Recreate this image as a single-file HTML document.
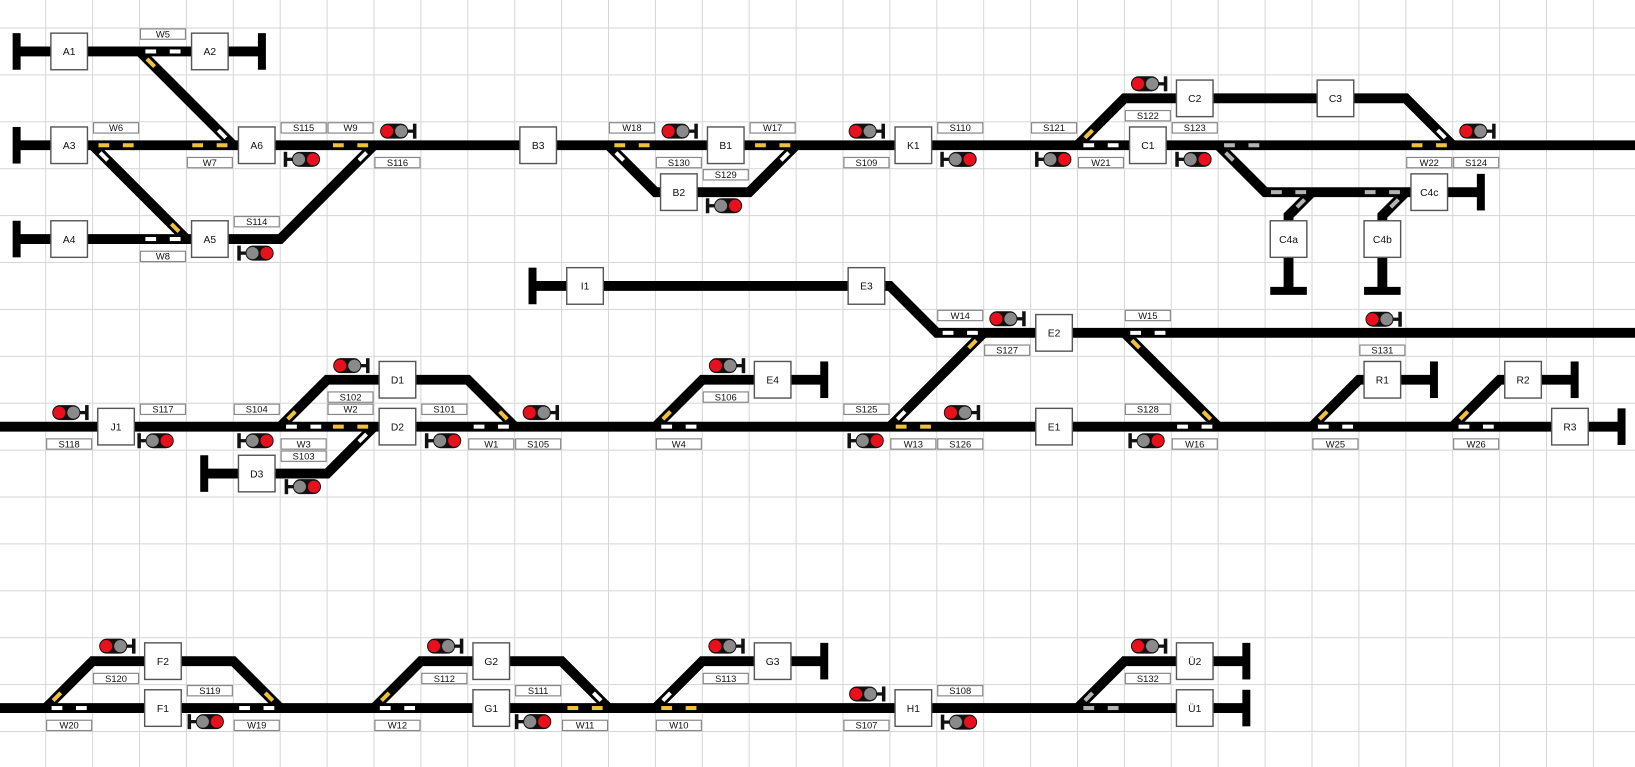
<!DOCTYPE html>
<html><head><meta charset="utf-8"><style>
html,body{margin:0;padding:0;background:#fff;}
svg{display:block;}
text{font-family:"Liberation Sans",Arial,sans-serif;text-anchor:middle;fill:#111;}
</style></head><body>
<svg width="1635" height="767" viewBox="0 0 1635 767" xmlns="http://www.w3.org/2000/svg">
<defs>
<pattern id="gp" x="45.2" y="27.5" width="46.9" height="46.9" patternUnits="userSpaceOnUse">
<path d="M0 0.5H46.9M0.5 0V46.9" stroke="#d6d6d6" stroke-width="1" fill="none"/>
</pattern>
<rect id="m" x="-0.115" y="-0.043" width="0.23" height="0.086"/>
<g id="sg"><rect x="-0.3" y="-0.16" width="0.6" height="0.32" rx="0.16" fill="#111"/><circle cx="-0.15" cy="0" r="0.13" fill="#e8101c"/><circle cx="0.15" cy="0" r="0.13" fill="#8a8a8a"/><rect x="0.28" y="-0.035" width="0.14" height="0.07" fill="#111"/><rect x="0.4" y="-0.16" width="0.075" height="0.32" fill="#111"/></g>
<rect id="bx" x="0.11" y="0.11" width="0.78" height="0.78" fill="#fff" stroke="#555" stroke-width="0.03"/>
<rect id="lb" x="0.02" y="0.02" width="0.96" height="0.22" fill="#fff" stroke="#888" stroke-width="0.025"/>
<rect id="bv" x="-0.085" y="-0.39" width="0.17" height="0.78" fill="#000"/>
</defs>
<rect width="1635" height="767" fill="#fff"/>
<rect width="1635" height="767" fill="url(#gp)"/>
<g transform="translate(45.7,28) scale(46.9)">
<!-- tracks -->
<g fill="none" stroke="#000" stroke-width="0.21" stroke-linejoin="miter">
<path d="M-0.62 0.5H4.61"/>
<path d="M2 0.5L4 2.5"/>
<path d="M-0.62 2.5H34.2"/>
<path d="M1 2.5L3 4.5"/>
<path d="M-0.62 4.5H5L7 2.5"/>
<path d="M12 2.5L13 3.5H15L16 2.5"/>
<path d="M22 2.5L23 1.5H29L30 2.5"/>
<path d="M25 2.5L26 3.5H30.6"/>
<path d="M27 3.5L26.5 4V5.6"/>
<path d="M29 3.5L28.5 4V5.6"/>
<path d="M10.38 5.5H18L19 6.5H34.2"/>
<path d="M18 8.5L20 6.5"/>
<path d="M23 6.5L25 8.5"/>
<path d="M-1 8.5H33.6"/>
<path d="M5 8.5L6 7.5H9L10 8.5"/>
<path d="M3.38 9.5H6L7 8.5"/>
<path d="M13 8.5L14 7.5H16.6"/>
<path d="M27 8.5L28 7.5H29.6"/>
<path d="M30 8.5L31 7.5H32.6"/>
<path d="M-1 14.5H25.6"/>
<path d="M0 14.5L1 13.5H4L5 14.5"/>
<path d="M7 14.5L8 13.5H11L12 14.5"/>
<path d="M13 14.5L14 13.5H16.6"/>
<path d="M22 14.5L23 13.5H25.6"/>
</g>
<!-- bumpers -->
<use href="#bv" x="-0.62" y="0.5"/><use href="#bv" x="4.61" y="0.5"/>
<use href="#bv" x="-0.62" y="2.5"/><use href="#bv" x="-0.62" y="4.5"/>
<use href="#bv" x="30.6" y="3.5"/><use href="#bv" x="10.38" y="5.5"/>
<use href="#bv" x="3.38" y="9.5"/><use href="#bv" x="16.6" y="7.5"/>
<use href="#bv" x="29.6" y="7.5"/><use href="#bv" x="32.6" y="7.5"/>
<use href="#bv" x="33.6" y="8.5"/><use href="#bv" x="16.6" y="13.5"/>
<use href="#bv" x="25.6" y="13.5"/><use href="#bv" x="25.6" y="14.5"/>
<rect x="26.11" y="5.52" width="0.78" height="0.17" fill="#000"/>
<rect x="28.11" y="5.52" width="0.78" height="0.17" fill="#000"/>
<!-- switch marks -->
<g>
<use href="#m" x="2.24" y="0.5" fill="#fff"/><use href="#m" x="2.76" y="0.5" fill="#fff"/><use href="#m" transform="translate(2.24 0.74) rotate(45)" fill="#f0c23a"/>
<use href="#m" x="3.76" y="2.5" fill="#f0c23a"/><use href="#m" x="3.24" y="2.5" fill="#f0c23a"/><use href="#m" transform="translate(3.76 2.26) rotate(45)" fill="#fff"/>
<use href="#m" x="1.24" y="2.5" fill="#f0c23a"/><use href="#m" x="1.76" y="2.5" fill="#f0c23a"/><use href="#m" transform="translate(1.24 2.74) rotate(45)" fill="#fff"/>
<use href="#m" x="2.76" y="4.5" fill="#fff"/><use href="#m" x="2.24" y="4.5" fill="#fff"/><use href="#m" transform="translate(2.76 4.26) rotate(45)" fill="#f0c23a"/>
<use href="#m" x="6.76" y="2.5" fill="#f0c23a"/><use href="#m" x="6.24" y="2.5" fill="#f0c23a"/><use href="#m" transform="translate(6.76 2.74) rotate(-45)" fill="#fff"/>
<use href="#m" x="12.24" y="2.5" fill="#f0c23a"/><use href="#m" x="12.76" y="2.5" fill="#f0c23a"/><use href="#m" transform="translate(12.24 2.74) rotate(45)" fill="#fff"/>
<use href="#m" x="15.76" y="2.5" fill="#f0c23a"/><use href="#m" x="15.24" y="2.5" fill="#f0c23a"/><use href="#m" transform="translate(15.76 2.74) rotate(-45)" fill="#fff"/>
<use href="#m" x="22.24" y="2.5" fill="#fff"/><use href="#m" x="22.76" y="2.5" fill="#fff"/><use href="#m" transform="translate(22.24 2.26) rotate(-45)" fill="#f0c23a"/>
<use href="#m" x="29.76" y="2.5" fill="#f0c23a"/><use href="#m" x="29.24" y="2.5" fill="#f0c23a"/><use href="#m" transform="translate(29.76 2.26) rotate(45)" fill="#fff"/>
<use href="#m" x="25.24" y="2.5" fill="#b4b4b4"/><use href="#m" x="25.76" y="2.5" fill="#b4b4b4"/><use href="#m" transform="translate(25.24 2.74) rotate(45)" fill="#b4b4b4"/>
<use href="#m" x="26.76" y="3.5" fill="#b4b4b4"/><use href="#m" x="26.24" y="3.5" fill="#b4b4b4"/><use href="#m" transform="translate(26.76 3.74) rotate(-45)" fill="#b4b4b4"/>
<use href="#m" x="28.76" y="3.5" fill="#b4b4b4"/><use href="#m" x="28.24" y="3.5" fill="#b4b4b4"/><use href="#m" transform="translate(28.76 3.74) rotate(-45)" fill="#b4b4b4"/>
<use href="#m" x="19.76" y="6.5" fill="#fff"/><use href="#m" x="19.24" y="6.5" fill="#fff"/><use href="#m" transform="translate(19.76 6.74) rotate(-45)" fill="#f0c23a"/>
<use href="#m" x="23.24" y="6.5" fill="#fff"/><use href="#m" x="23.76" y="6.5" fill="#fff"/><use href="#m" transform="translate(23.24 6.74) rotate(45)" fill="#f0c23a"/>
<use href="#m" x="24.76" y="8.5" fill="#fff"/><use href="#m" x="24.24" y="8.5" fill="#fff"/><use href="#m" transform="translate(24.76 8.26) rotate(45)" fill="#f0c23a"/>
<use href="#m" x="18.24" y="8.5" fill="#f0c23a"/><use href="#m" x="18.76" y="8.5" fill="#f0c23a"/><use href="#m" transform="translate(18.24 8.26) rotate(-45)" fill="#fff"/>
<use href="#m" x="13.24" y="8.5" fill="#fff"/><use href="#m" x="13.76" y="8.5" fill="#fff"/><use href="#m" transform="translate(13.24 8.26) rotate(-45)" fill="#f0c23a"/>
<use href="#m" x="5.24" y="8.5" fill="#fff"/><use href="#m" x="5.76" y="8.5" fill="#fff"/><use href="#m" transform="translate(5.24 8.26) rotate(-45)" fill="#f0c23a"/>
<use href="#m" x="6.76" y="8.5" fill="#f0c23a"/><use href="#m" x="6.24" y="8.5" fill="#f0c23a"/><use href="#m" transform="translate(6.76 8.74) rotate(-45)" fill="#fff"/>
<use href="#m" x="9.76" y="8.5" fill="#fff"/><use href="#m" x="9.24" y="8.5" fill="#fff"/><use href="#m" transform="translate(9.76 8.26) rotate(45)" fill="#f0c23a"/>
<use href="#m" x="27.24" y="8.5" fill="#fff"/><use href="#m" x="27.76" y="8.5" fill="#fff"/><use href="#m" transform="translate(27.24 8.26) rotate(-45)" fill="#f0c23a"/>
<use href="#m" x="30.24" y="8.5" fill="#fff"/><use href="#m" x="30.76" y="8.5" fill="#fff"/><use href="#m" transform="translate(30.24 8.26) rotate(-45)" fill="#f0c23a"/>
<use href="#m" x="0.24" y="14.5" fill="#fff"/><use href="#m" x="0.76" y="14.5" fill="#fff"/><use href="#m" transform="translate(0.24 14.26) rotate(-45)" fill="#f0c23a"/>
<use href="#m" x="4.76" y="14.5" fill="#fff"/><use href="#m" x="4.24" y="14.5" fill="#fff"/><use href="#m" transform="translate(4.76 14.26) rotate(45)" fill="#f0c23a"/>
<use href="#m" x="7.24" y="14.5" fill="#fff"/><use href="#m" x="7.76" y="14.5" fill="#fff"/><use href="#m" transform="translate(7.24 14.26) rotate(-45)" fill="#f0c23a"/>
<use href="#m" x="11.76" y="14.5" fill="#f0c23a"/><use href="#m" x="11.24" y="14.5" fill="#f0c23a"/><use href="#m" transform="translate(11.76 14.26) rotate(45)" fill="#fff"/>
<use href="#m" x="13.24" y="14.5" fill="#f0c23a"/><use href="#m" x="13.76" y="14.5" fill="#f0c23a"/><use href="#m" transform="translate(13.24 14.26) rotate(-45)" fill="#fff"/>
<use href="#m" x="22.24" y="14.5" fill="#b4b4b4"/><use href="#m" x="22.76" y="14.5" fill="#b4b4b4"/><use href="#m" transform="translate(22.24 14.26) rotate(-45)" fill="#b4b4b4"/>
</g>
<!-- signals post right -->
<use href="#sg" x="7.43" y="2.2"/><use href="#sg" x="13.43" y="2.2"/><use href="#sg" x="17.42" y="2.2"/>
<use href="#sg" x="23.44" y="1.19"/><use href="#sg" x="30.44" y="2.2"/><use href="#sg" x="20.42" y="6.2"/>
<use href="#sg" x="28.44" y="6.21"/><use href="#sg" x="0.44" y="8.2"/><use href="#sg" x="6.43" y="7.2"/>
<use href="#sg" x="10.47" y="8.2"/><use href="#sg" x="14.44" y="7.2"/><use href="#sg" x="19.45" y="8.2"/>
<use href="#sg" x="1.44" y="13.18"/><use href="#sg" x="8.43" y="13.18"/><use href="#sg" x="14.43" y="13.18"/>
<use href="#sg" x="17.43" y="14.2"/><use href="#sg" x="23.44" y="13.18"/>
<!-- signals post left -->
<use href="#sg" transform="translate(5.55 2.8) rotate(180)"/><use href="#sg" transform="translate(4.56 4.8) rotate(180)"/>
<use href="#sg" transform="translate(14.55 3.79) rotate(180)"/><use href="#sg" transform="translate(19.55 2.8) rotate(180)"/>
<use href="#sg" transform="translate(21.57 2.8) rotate(180)"/><use href="#sg" transform="translate(24.56 2.8) rotate(180)"/>
<use href="#sg" transform="translate(2.43 8.8) rotate(180)"/><use href="#sg" transform="translate(4.56 8.8) rotate(180)"/>
<use href="#sg" transform="translate(5.57 9.78) rotate(180)"/><use href="#sg" transform="translate(8.56 8.8) rotate(180)"/>
<use href="#sg" transform="translate(17.57 8.8) rotate(180)"/><use href="#sg" transform="translate(23.56 8.8) rotate(180)"/>
<use href="#sg" transform="translate(3.5 14.79) rotate(180)"/><use href="#sg" transform="translate(10.48 14.79) rotate(180)"/>
<use href="#sg" transform="translate(19.56 14.8) rotate(180)"/>
<!-- boxes -->
<use href="#bx" x="0" y="0"/><use href="#bx" x="3" y="0"/><use href="#bx" x="0" y="2"/><use href="#bx" x="4" y="2"/>
<use href="#bx" x="0" y="4"/><use href="#bx" x="3" y="4"/><use href="#bx" x="10" y="2"/><use href="#bx" x="14" y="2"/>
<use href="#bx" x="13" y="3"/><use href="#bx" x="18" y="2"/><use href="#bx" x="23" y="2"/><use href="#bx" x="24" y="1"/>
<use href="#bx" x="27" y="1"/><use href="#bx" x="29" y="3"/><use href="#bx" x="26" y="4"/><use href="#bx" x="28" y="4"/>
<use href="#bx" x="11" y="5"/><use href="#bx" x="17" y="5"/><use href="#bx" x="21" y="6"/><use href="#bx" x="15" y="7"/>
<use href="#bx" x="21" y="8"/><use href="#bx" x="1" y="8"/><use href="#bx" x="7" y="7"/><use href="#bx" x="7" y="8"/>
<use href="#bx" x="4" y="9"/><use href="#bx" x="28" y="7"/><use href="#bx" x="31" y="7"/><use href="#bx" x="32" y="8"/>
<use href="#bx" x="2" y="13"/><use href="#bx" x="2" y="14"/><use href="#bx" x="9" y="13"/><use href="#bx" x="9" y="14"/>
<use href="#bx" x="15" y="13"/><use href="#bx" x="18" y="14"/><use href="#bx" x="24" y="13"/><use href="#bx" x="24" y="14"/>
<g font-size="0.22">
<text x="0.5" y="0.58">A1</text><text x="3.5" y="0.58">A2</text><text x="0.5" y="2.58">A3</text><text x="4.5" y="2.58">A6</text>
<text x="0.5" y="4.58">A4</text><text x="3.5" y="4.58">A5</text><text x="10.5" y="2.58">B3</text><text x="14.5" y="2.58">B1</text>
<text x="13.5" y="3.58">B2</text><text x="18.5" y="2.58">K1</text><text x="23.5" y="2.58">C1</text><text x="24.5" y="1.58">C2</text>
<text x="27.5" y="1.58">C3</text><text x="29.5" y="3.58">C4c</text><text x="26.5" y="4.58">C4a</text><text x="28.5" y="4.58">C4b</text>
<text x="11.5" y="5.58">I1</text><text x="17.5" y="5.58">E3</text><text x="21.5" y="6.58">E2</text><text x="15.5" y="7.58">E4</text>
<text x="21.5" y="8.58">E1</text><text x="1.5" y="8.58">J1</text><text x="7.5" y="7.58">D1</text><text x="7.5" y="8.58">D2</text>
<text x="4.5" y="9.58">D3</text><text x="28.5" y="7.58">R1</text><text x="31.5" y="7.58">R2</text><text x="32.5" y="8.58">R3</text>
<text x="2.5" y="13.58">F2</text><text x="2.5" y="14.58">F1</text><text x="9.5" y="13.58">G2</text><text x="9.5" y="14.58">G1</text>
<text x="15.5" y="13.58">G3</text><text x="18.5" y="14.58">H1</text><text x="24.5" y="13.58">Ü2</text><text x="24.5" y="14.58">Ü1</text>
</g>
<!-- labels -->
<use href="#lb" x="2" y="0"/><use href="#lb" x="1" y="2"/><use href="#lb" x="3" y="2.74"/><use href="#lb" x="5" y="2"/>
<use href="#lb" x="6" y="2"/><use href="#lb" x="7" y="2.74"/><use href="#lb" x="4" y="4"/><use href="#lb" x="2" y="4.74"/>
<use href="#lb" x="12" y="2"/><use href="#lb" x="13" y="2.74"/><use href="#lb" x="14" y="3"/><use href="#lb" x="15" y="2"/>
<use href="#lb" x="17" y="2.74"/><use href="#lb" x="19" y="2"/><use href="#lb" x="21" y="2"/><use href="#lb" x="22" y="2.74"/>
<use href="#lb" x="23" y="1.74"/><use href="#lb" x="24" y="2"/><use href="#lb" x="29" y="2.74"/><use href="#lb" x="30" y="2.74"/>
<use href="#lb" x="19" y="6"/><use href="#lb" x="20" y="6.74"/><use href="#lb" x="23" y="6"/><use href="#lb" x="28" y="6.74"/>
<use href="#lb" x="0" y="8.74"/><use href="#lb" x="2" y="8"/><use href="#lb" x="4" y="8"/><use href="#lb" x="6" y="7.74"/>
<use href="#lb" x="6" y="8"/><use href="#lb" x="5" y="8.74"/><use href="#lb" x="5" y="9"/><use href="#lb" x="8" y="8"/>
<use href="#lb" x="9" y="8.74"/><use href="#lb" x="10" y="8.74"/><use href="#lb" x="14" y="7.74"/><use href="#lb" x="13" y="8.74"/>
<use href="#lb" x="17" y="8"/><use href="#lb" x="18" y="8.74"/><use href="#lb" x="19" y="8.74"/><use href="#lb" x="23" y="8"/>
<use href="#lb" x="24" y="8.74"/><use href="#lb" x="27" y="8.74"/><use href="#lb" x="30" y="8.74"/>
<use href="#lb" x="1" y="13.74"/><use href="#lb" x="3" y="14"/><use href="#lb" x="0" y="14.74"/><use href="#lb" x="4" y="14.74"/>
<use href="#lb" x="8" y="13.74"/><use href="#lb" x="10" y="14"/><use href="#lb" x="7" y="14.74"/><use href="#lb" x="11" y="14.74"/>
<use href="#lb" x="13" y="14.74"/><use href="#lb" x="14" y="13.74"/><use href="#lb" x="19" y="14"/><use href="#lb" x="17" y="14.74"/>
<use href="#lb" x="23" y="13.74"/>
<g font-size="0.2">
<text x="2.5" y="0.2">W5</text><text x="1.5" y="2.2">W6</text><text x="3.5" y="2.94">W7</text><text x="5.5" y="2.2">S115</text>
<text x="6.5" y="2.2">W9</text><text x="7.5" y="2.94">S116</text><text x="4.5" y="4.2">S114</text><text x="2.5" y="4.94">W8</text>
<text x="12.5" y="2.2">W18</text><text x="13.5" y="2.94">S130</text><text x="14.5" y="3.2">S129</text><text x="15.5" y="2.2">W17</text>
<text x="17.5" y="2.94">S109</text><text x="19.5" y="2.2">S110</text><text x="21.5" y="2.2">S121</text><text x="22.5" y="2.94">W21</text>
<text x="23.5" y="1.94">S122</text><text x="24.5" y="2.2">S123</text><text x="29.5" y="2.94">W22</text><text x="30.5" y="2.94">S124</text>
<text x="19.5" y="6.2">W14</text><text x="20.5" y="6.94">S127</text><text x="23.5" y="6.2">W15</text><text x="28.5" y="6.94">S131</text>
<text x="0.5" y="8.94">S118</text><text x="2.5" y="8.2">S117</text><text x="4.5" y="8.2">S104</text><text x="6.5" y="7.94">S102</text>
<text x="6.5" y="8.2">W2</text><text x="5.5" y="8.94">W3</text><text x="5.5" y="9.2">S103</text><text x="8.5" y="8.2">S101</text>
<text x="9.5" y="8.94">W1</text><text x="10.5" y="8.94">S105</text><text x="14.5" y="7.94">S106</text><text x="13.5" y="8.94">W4</text>
<text x="17.5" y="8.2">S125</text><text x="18.5" y="8.94">W13</text><text x="19.5" y="8.94">S126</text><text x="23.5" y="8.2">S128</text>
<text x="24.5" y="8.94">W16</text><text x="27.5" y="8.94">W25</text><text x="30.5" y="8.94">W26</text>
<text x="1.5" y="13.94">S120</text><text x="3.5" y="14.2">S119</text><text x="0.5" y="14.94">W20</text><text x="4.5" y="14.94">W19</text>
<text x="8.5" y="13.94">S112</text><text x="10.5" y="14.2">S111</text><text x="7.5" y="14.94">W12</text><text x="11.5" y="14.94">W11</text>
<text x="13.5" y="14.94">W10</text><text x="14.5" y="13.94">S113</text><text x="19.5" y="14.2">S108</text><text x="17.5" y="14.94">S107</text>
<text x="23.5" y="13.94">S132</text>
</g>
</g>
</svg>
</body></html>
